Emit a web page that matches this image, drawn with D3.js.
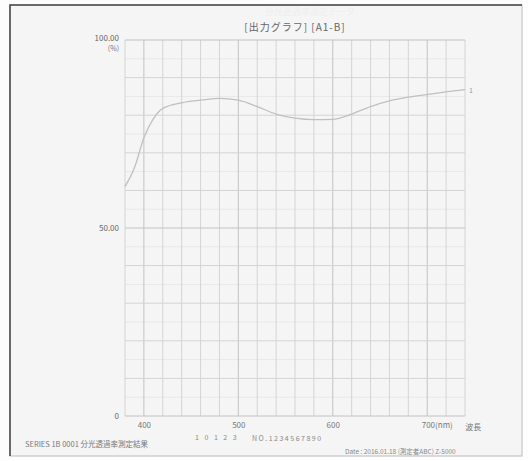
<!DOCTYPE html>
<html><head><meta charset="utf-8">
<script src="https://cdn.jsdelivr.net/npm/d3@7"></script>
<style>html,body{margin:0;padding:0;background:#fff;}svg{display:block;}</style>
</head><body>
<script>
const wavelengths = [380,390,400,410,420,440,460,480,500,520,540,560,580,600,620,640,660,680,700,720,740];
const values = [61,66,74,79,81.8,83.3,84,84.5,84,82.3,80.3,79.2,78.8,78.9,80.3,82.3,83.8,84.8,85.5,86.2,86.8];
const xTicks = [400,500,600,700];
const xTickLabels = ["400","500","600","700(nm)"];
const yTicks = [0,50,100];
const yTickLabels = ["0","50.00","100.00"];
const title = "[出力グラフ]  [A1-B]";

const W=528,H=461;
const svg=d3.select("body").append("svg").attr("width",W).attr("height",H);
svg.append("rect").attr("width",W).attr("height",H).attr("fill","#fdfdfd");
svg.append("rect").attr("x",10).attr("y",5).attr("width",512).attr("height",451)
  .attr("fill","#f5f5f5").attr("stroke","#bbb").attr("stroke-width",1);
svg.append("path").attr("d","M10,456V5H522").attr("fill","none").attr("stroke","#444").attr("stroke-width",1.5);

const x=d3.scaleLinear().domain([380,740]).range([125,465]);
const y=d3.scaleLinear().domain([0,100]).range([416,40]);
const font="'Noto Sans CJK JP','Noto Sans',sans-serif";

// grid
const g=svg.append("g");
d3.range(5,100,10).forEach(v=>{
  g.append("line").attr("x1",x(380)).attr("x2",x(740)).attr("y1",y(v)).attr("y2",y(v))
   .attr("stroke","#e8e8e8").attr("stroke-width",1);
});
d3.range(380,741,20).forEach(v=>{
  g.append("line").attr("x1",x(v)).attr("x2",x(v)).attr("y1",y(0)).attr("y2",y(100))
   .attr("stroke", v%100===0?"#c2c2c2":"#d4d4d4").attr("stroke-width",1);
});
d3.range(0,101,10).forEach(v=>{
  g.append("line").attr("x1",x(380)).attr("x2",x(740)).attr("y1",y(v)).attr("y2",y(v))
   .attr("stroke", v%50===0?"#c2c2c2":"#d4d4d4").attr("stroke-width",1);
});

// axes labels
const xAxis=d3.axisBottom(x).tickValues(xTicks).tickSize(0).tickFormat((d,i)=>xTickLabels[i]);
const xa=svg.append("g").attr("transform",`translate(0,${y(0)+3})`).call(xAxis);
xa.select(".domain").remove();
xa.selectAll("text").attr("fill","#777").style("font-family",font).style("font-size","8px")
  .attr("text-anchor",(d,i)=>i===3?"start":"middle").attr("dx",(d,i)=>i===3?"-6":"0");
svg.append("text").attr("x",x(700)+38).attr("y",y(0)+14).attr("fill","#777")
  .style("font-family",font).style("font-size","8px").text("波長");

const yAxis=d3.axisLeft(y).tickValues(yTicks).tickSize(0).tickFormat((d,i)=>yTickLabels[i]);
const ya=svg.append("g").attr("transform",`translate(${x(380)-3},0)`).call(yAxis);
ya.select(".domain").remove();
ya.selectAll("text").attr("fill","#666").style("font-family",font).style("font-size","8px")
  .attr("text-anchor","end").attr("dy","0.3em");
ya.selectAll(".tick").filter(d=>d===100).select("text").attr("dy","0.1em");
svg.append("text").attr("x",x(380)-6).attr("y",y(100)+11).attr("text-anchor","end").attr("fill","#777")
  .style("font-family",font).style("font-size","7px").text("(%)");

// curve
const line=d3.line().x((d,i)=>x(wavelengths[i])).y(d=>y(d)).curve(d3.curveMonotoneX);
svg.append("path").datum(values).attr("d",line).attr("fill","none").attr("stroke","#c0c0c0").attr("stroke-width",1.3);
svg.append("text").attr("x",x(740)+4).attr("y",y(values[values.length-1])+3).attr("fill","#999")
  .style("font-family",font).style("font-size","7px").text("1");

// title
svg.append("text").attr("x",295).attr("y",31).attr("text-anchor","middle").attr("fill","#666")
  .style("font-family",font).style("font-size","10px").style("letter-spacing","1px").text(title);
svg.append("text").attr("x",310).attr("y",15).attr("text-anchor","middle").attr("fill","#eeeeee")
  .style("font-family",font).style("font-size","9px").text("分光透過率測定データ");

// footer texts
svg.append("text").attr("x",25).attr("y",447).attr("fill","#777")
  .style("font-family",font).style("font-size","7.5px").text("SERIES 1B 0001 分光透過率測定結果");
svg.append("text").attr("x",195).attr("y",440).attr("fill","#888")
  .style("font-family",font).style("font-size","7px").style("letter-spacing","2px").text("1 0 1 2 3");
svg.append("text").attr("x",252).attr("y",441).attr("fill","#888")
  .style("font-family",font).style("font-size","7px").style("letter-spacing","1.5px").text("NO.1234567890");
svg.append("text").attr("x",345).attr("y",454).attr("fill","#888")
  .style("font-family",font).style("font-size","6.5px").text("Date : 2016.01.18  (測定者ABC)    Z-5000");
</script>
</body></html>
